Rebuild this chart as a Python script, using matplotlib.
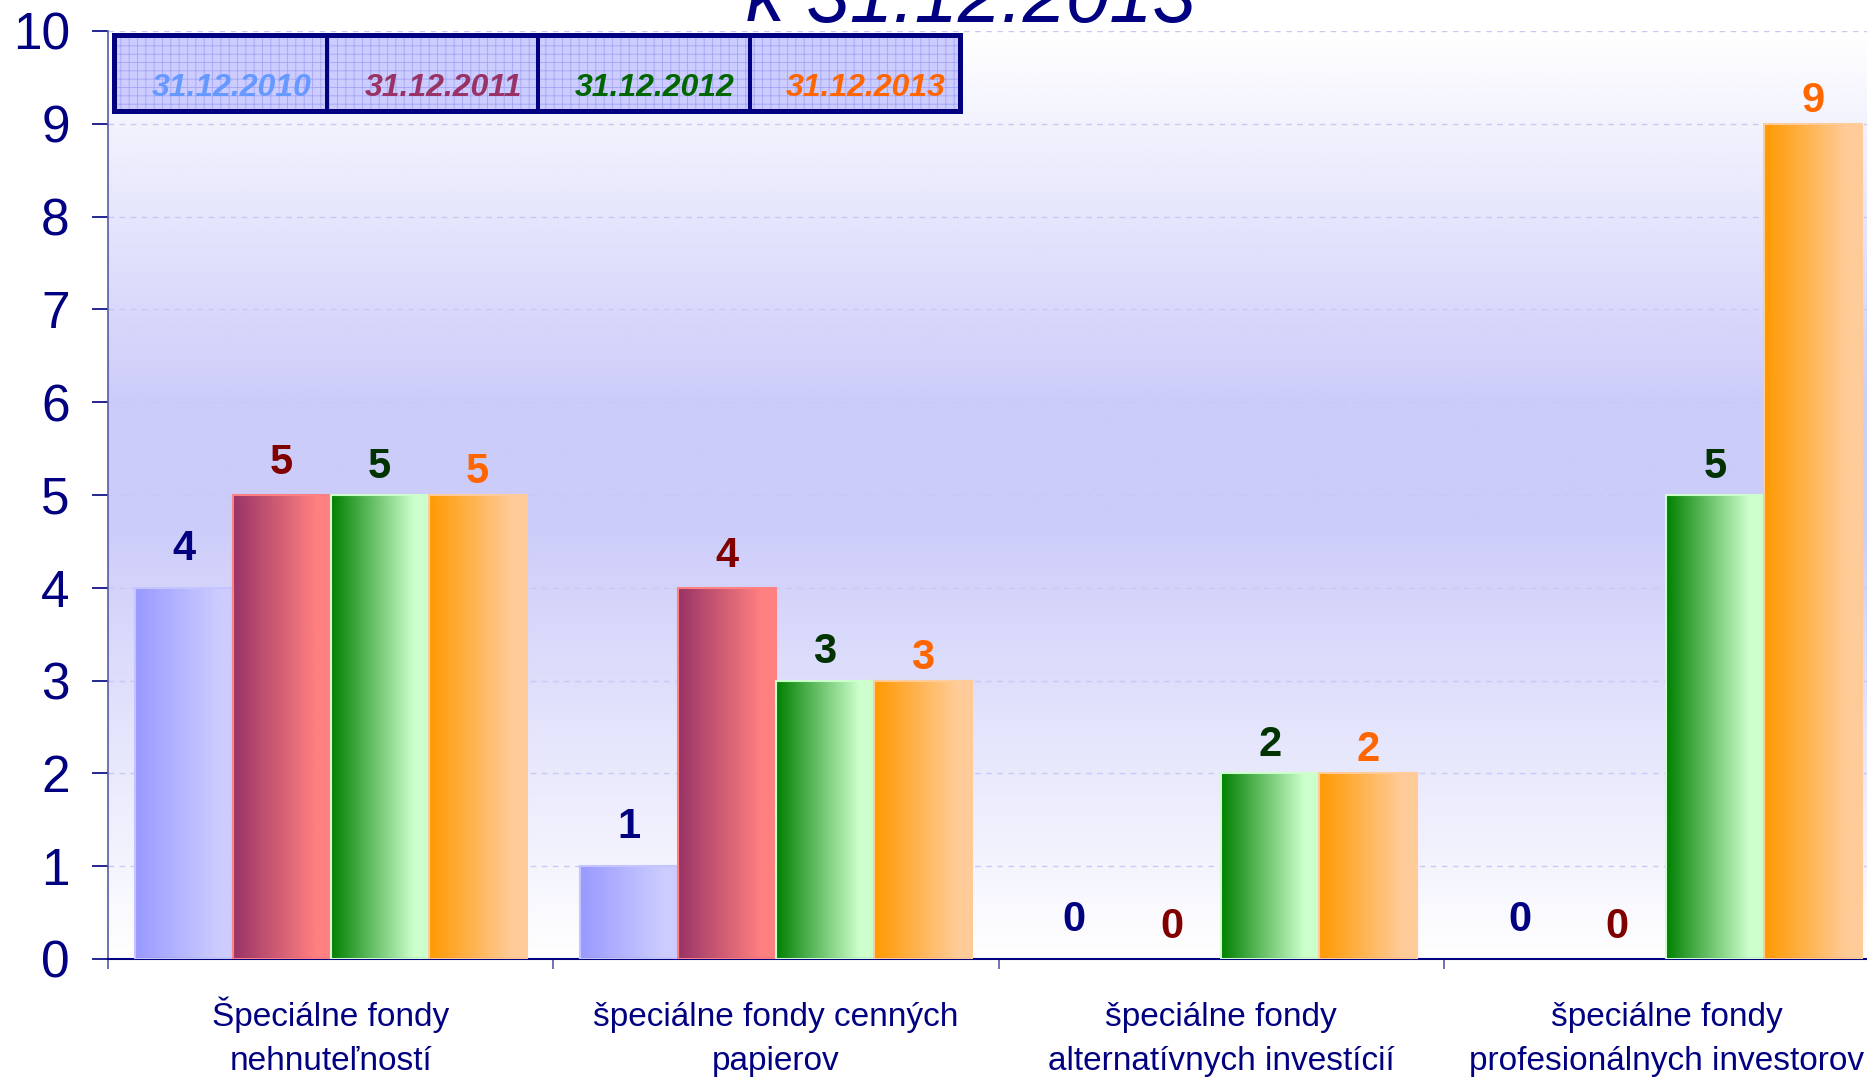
import numpy as np
import matplotlib
matplotlib.use('Agg')
import matplotlib.pyplot as plt
from matplotlib.colors import to_rgb, LinearSegmentedColormap
from matplotlib.patches import Rectangle

# ---------------- data ----------------
categories = ["Špeciálne fondy\nnehnuteľností",
              "špeciálne fondy cenných\npapierov",
              "špeciálne fondy\nalternatívnych investícií",
              "špeciálne fondy\nprofesionálnych investorov"]
series_names = ["31.12.2010", "31.12.2011", "31.12.2012", "31.12.2013"]
v2010 = [4, 1, 0, 0]
v2011 = [5, 4, 0, 0]
v2012 = [5, 3, 2, 5]
v2013 = [5, 3, 2, 9]
yticks = list(range(0, 11))
title = "k 31.12.2013"

# ---------------- style ----------------
plt.rcParams['font.family'] = ['Liberation Sans', 'DejaVu Sans']
plt.rcParams['hatch.linewidth'] = 0.6
NAVY = '#000080'
grad_colors = [('#9999ff', '#ccccff'), ('#993366', '#ff8080'),
               ('#008000', '#ccffcc'), ('#ff9900', '#ffcc99')]
edge_colors = ['#c4c4ff', '#ff8080', '#ccffcc', '#ffcc99']
value_colors = ['#000080', '#800000', '#003300', '#ff6600']
legend_colors = ['#6699ff', '#993366', '#006600', '#ff6600']
label_offsets_pt = [28, 23, 20.5, 16.5]

W, H = 1867, 1077
fig = plt.figure(figsize=(W / 100, H / 100), dpi=100)
ax = fig.add_axes([108 / W, (H - 959) / H, 1781 / W, 928 / H])

# background gradient
bg_cmap = LinearSegmentedColormap.from_list(
    'bg', [(0, '#ffffff'), (0.47, '#ccccfa'), (0.6, '#ccccfa'), (1, '#ffffff')])
grad = np.linspace(0, 1, 512).reshape(-1, 1)
ax.imshow(grad, cmap=bg_cmap, extent=[0, len(categories), 0, 10], origin='lower',
          aspect='auto', zorder=0, interpolation='bilinear')

ax.set_axisbelow(True)
ax.yaxis.grid(True, linestyle=(0, (4, 4)), color='#c8c8f4', linewidth=1.0)

x = np.arange(len(categories)) + 0.5
bw = 0.22
all_series = [v2010, v2011, v2012, v2013]
t = np.linspace(0, 1, 300)
f = np.clip(t / 0.85, 0, 1)
for k, vals in enumerate(all_series):
    xs = x + (k - 1.5) * bw
    bars = ax.bar(xs, vals, bw, color='none', edgecolor='none', zorder=2)
    c0 = np.array(to_rgb(grad_colors[k][0]))
    c1 = np.array(to_rgb(grad_colors[k][1]))
    row = (c0[None, :] * (1 - f[:, None]) + c1[None, :] * f[:, None])[None, :, :]
    for rect in bars:
        h = rect.get_height()
        if h <= 0:
            continue
        x0 = rect.get_x()
        w = rect.get_width()
        ax.imshow(row, extent=[x0, x0 + w, 0, h], aspect='auto', zorder=2,
                  interpolation='bilinear')
    ax.bar(xs, vals, bw, fill=False,
           edgecolor=[edge_colors[k] if v > 0 else 'none' for v in vals],
           linewidth=1.5, zorder=3)
    for xi, v in zip(xs, vals):
        ax.annotate(str(v), (xi, v), xytext=(0, label_offsets_pt[k]),
                    textcoords='offset points', ha='center', va='center',
                    fontsize=30, fontweight='bold', color=value_colors[k],
                    zorder=5, annotation_clip=False)

ax.set_xlim(0, len(categories))
ax.set_ylim(0, 10)
ax.set_yticks(yticks)
ax.set_yticklabels([str(v) for v in yticks])
ax.tick_params(axis='y', direction='out', length=11.5, width=1.2, color=NAVY,
               labelsize=37, labelcolor=NAVY, pad=16)
ax.set_xticks(np.arange(len(categories) + 1))
ax.set_xticklabels([])
ax.tick_params(axis='x', which='major', direction='out', length=7, width=1.2,
               color='#5a5aa8')

# category labels: last-line baseline ~111 px below the axis
for xc, cat in zip(x, categories):
    ax.annotate(cat, (xc, 0), xytext=(0, -80), textcoords='offset points',
                ha='center', va='baseline', multialignment='center',
                fontsize=24, color=NAVY, linespacing=1.56, annotation_clip=False)

for s in ['top', 'right']:
    ax.spines[s].set_visible(False)
ax.spines['left'].set_color('#5a5aa8')
ax.spines['left'].set_linewidth(1.2)
ax.spines['bottom'].set_color(NAVY)
ax.spines['bottom'].set_linewidth(1.5)

# ---------------- legend (table-like box) ----------------
def fx(px):
    return px / W

def fy(py):
    return 1 - py / H

lx0, lx1, ly0, ly1 = 113.5, 959.5, 35.5, 110.5
fig.add_artist(Rectangle((fx(lx0), fy(ly1)), fx(lx1) - fx(lx0), fy(ly0) - fy(ly1),
                         transform=fig.transFigure, facecolor='#ccccff',
                         edgecolor='#a4a4f6', hatch='++', linewidth=0, zorder=10))
fig.add_artist(Rectangle((fx(lx0), fy(ly1)), fx(lx1) - fx(lx0), fy(ly0) - fy(ly1),
                         transform=fig.transFigure, facecolor='none',
                         edgecolor=NAVY, linewidth=3.6, zorder=11))
cells = [lx0, 327, 538, 750, lx1]
for xd in cells[1:-1]:
    fig.add_artist(plt.Line2D([fx(xd), fx(xd)], [fy(ly1), fy(ly0)], transform=fig.transFigure,
                              color=NAVY, linewidth=2.9, zorder=11))
for i, name in enumerate(series_names):
    cx = (cells[i] + cells[i + 1]) / 2 + 11
    fig.text(fx(cx), fy(88), name, ha='center', va='center', fontsize=23,
             fontweight='bold', style='italic', color=legend_colors[i], zorder=12)

# ---------------- title (partly cut off at top) ----------------
fig.text(fx(971), fy(22), title, ha='center', va='baseline', fontsize=56,
         style='italic', color=NAVY)

fig.savefig('out.png', dpi=100)
